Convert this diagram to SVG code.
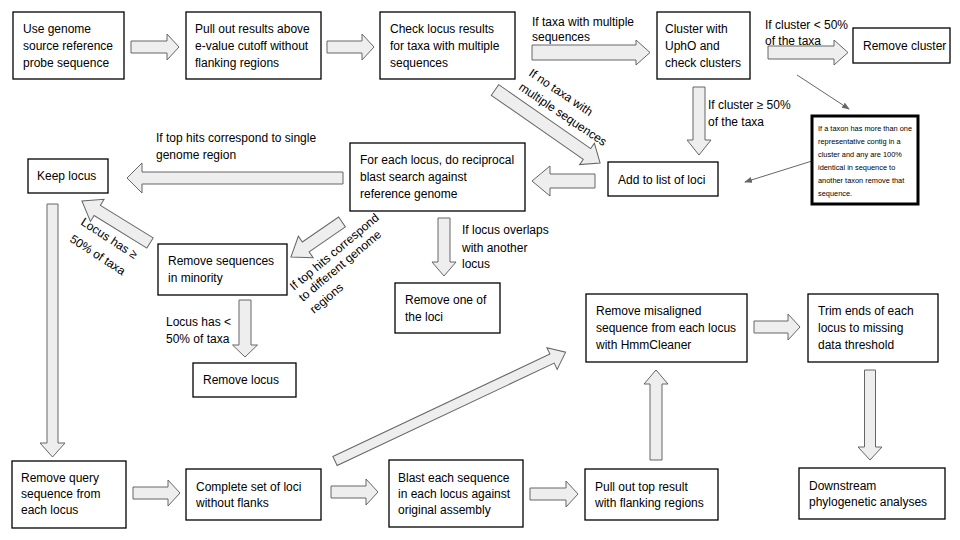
<svg xmlns="http://www.w3.org/2000/svg" width="960" height="540" viewBox="0 0 960 540">
<defs>
<style>
.box{fill:#fff;stroke:#000;stroke-width:1.3}
.note{fill:#fff;stroke:#000;stroke-width:3}
.t{font-family:"Liberation Sans",Arial,sans-serif;font-size:12px;fill:#000}
.s{font-family:"Liberation Sans",Arial,sans-serif;font-size:7.4px;fill:#000}
.arr{fill:#eeeeee;stroke:#666;stroke-width:1}
.thin{stroke:#666;stroke-width:1;fill:none;marker-end:url(#ah)}
</style>
<marker id="ah" markerWidth="8" markerHeight="6" refX="7" refY="3" orient="auto" markerUnits="userSpaceOnUse">
<path d="M0,0 L8,3 L0,6 z" fill="#666"/>
</marker>
</defs>
<rect width="960" height="540" fill="#fff"/>

<g id="connectors">
<polygon class="arr" points="131,41 167,41 167,34 179,47 167,60 167,53 131,53"/>
<polygon class="arr" points="327,41 362,41 362,34 374,47 362,60 362,53 327,53"/>
<polygon class="arr" points="532,45 636,45 636,40 650,52.5 636,65 636,60 532,60"/>
<polygon class="arr" points="768,46 834,46 834,40 848,52.5 834,65 834,59 768,59"/>
<polygon class="arr" points="693,87 705,87 705,140 711,140 699,155 687,140 693,140"/>
<polygon class="arr" points="595,174 550,174 550,166 532,181 550,196 550,188 595,188"/>
<polygon class="arr" points="343,172 142,172 142,163 127,178 142,193 142,184 343,184"/>
<polygon class="arr" points="47,204 58,204 58,443 65,443 52.5,457 40,443 47,443"/>
<polygon class="arr" points="239,300 251,300 251,345 257.5,345 245,357 232.5,345 239,345"/>
<polygon class="arr" points="438,218 450,218 450,262 456,262 444,276 432,262 438,262"/>
<polygon class="arr" points="133,487 168,487 168,480 180,493 168,506 168,499 133,499"/>
<polygon class="arr" points="331,486 366,486 366,479 378,492 366,505 366,498 331,498"/>
<polygon class="arr" points="530,488 566,488 566,481 578,494 566,507 566,500 530,500"/>
<polygon class="arr" points="650,460 662,460 662,384 668,384 656,370 644,384 650,384"/>
<polygon class="arr" points="754,321 788,321 788,314 800,327 788,340 788,333 754,333"/>
<polygon class="arr" points="864.5,370 875.5,370 875.5,447 882,447 870,460 858,447 864.5,447"/>
<polygon class="arr" transform="translate(150,243) rotate(211.7)" points="0,-6 62,-6 62,-13 80,0 62,13 62,6 0,6"/>
<polygon class="arr" transform="translate(342,222) rotate(145.5)" points="0,-6 44,-6 44,-13 62,0 44,13 44,6 0,6"/>
<polygon class="arr" transform="translate(495,90) rotate(34.8)" points="0,-6.5 112,-6.5 112,-13 128,0 112,13 112,6.5 0,6.5"/>
<polygon class="arr" transform="translate(335,461) rotate(-25.26)" points="0,-5 240,-5 240,-12 255,0 240,12 240,5 0,5"/>
<line class="thin" x1="797" y1="75" x2="849" y2="109"/>
<line class="thin" x1="812" y1="161" x2="745" y2="182"/>
</g>

<g id="labels">
<text class="t" x="532" y="26">If taxa with multiple</text>
<text class="t" x="532" y="41">sequences</text>
<text class="t" x="765" y="29">If cluster &lt; 50%</text>
<text class="t" x="765" y="45">of the taxa</text>
<text class="t" x="708" y="109">If cluster ≥ 50%</text>
<text class="t" x="708" y="126">of the taxa</text>
<text class="t" x="156" y="142">If top hits correspond to single</text>
<text class="t" x="156" y="159">genome region</text>
<text class="t" x="462" y="234">If locus overlaps</text>
<text class="t" x="462" y="252">with another</text>
<text class="t" x="462" y="268">locus</text>
<text class="t" x="166" y="326">Locus has &lt;</text>
<text class="t" x="166" y="343">50% of taxa</text>
<text class="t" transform="translate(528,75) rotate(34)">If no taxa with</text>
<text class="t" transform="translate(518,89) rotate(34)">multiple sequences</text>
<text class="t" transform="translate(80,224) rotate(33)">Locus has ≥</text>
<text class="t" transform="translate(69,241) rotate(33)">50% of taxa</text>
<text class="t" transform="translate(294,291) rotate(-40)">If top hits correspond</text>
<text class="t" transform="translate(303,302) rotate(-40)">to different genome</text>
<text class="t" transform="translate(314,314) rotate(-40)">regions</text>
</g>

<g id="n1"><rect class="box" x="13" y="12" width="111" height="67"/>
<text class="t" x="23" y="33">Use genome</text><text class="t" x="23" y="50">source reference</text><text class="t" x="23" y="67">probe sequence</text></g>
<g id="n2"><rect class="box" x="186" y="12" width="135" height="67"/>
<text class="t" x="195" y="33">Pull out results above</text><text class="t" x="195" y="50">e-value cutoff without</text><text class="t" x="195" y="67">flanking regions</text></g>
<g id="n3"><rect class="box" x="380" y="12" width="135" height="67"/>
<text class="t" x="390" y="33">Check locus results</text><text class="t" x="390" y="50">for taxa with multiple</text><text class="t" x="390" y="67">sequences</text></g>
<g id="n4"><rect class="box" x="657" y="12" width="93" height="67"/>
<text class="t" x="665" y="33">Cluster with</text><text class="t" x="665" y="50">UphO and</text><text class="t" x="665" y="67">check clusters</text></g>
<g id="n5"><rect class="box" x="853" y="28" width="97" height="35"/>
<text class="t" x="863" y="50">Remove cluster</text></g>
<g id="n6"><rect class="box" x="608" y="162" width="110" height="34"/>
<text class="t" x="618" y="184">Add to list of loci</text></g>
<g id="n7"><rect class="note" x="812" y="116" width="106" height="88"/>
<text class="s" x="818" y="131">If a taxon has more than one</text>
<text class="s" x="818" y="144">representative contig in a</text>
<text class="s" x="818" y="157">cluster and any are 100%</text>
<text class="s" x="818" y="170">identical in sequence to</text>
<text class="s" x="818" y="183">another taxon remove that</text>
<text class="s" x="818" y="196">sequence.</text></g>
<g id="n8"><rect class="box" x="350" y="143" width="175" height="68"/>
<text class="t" x="360" y="164">For each locus, do reciprocal</text><text class="t" x="360" y="181">blast search against</text><text class="t" x="360" y="198">reference genome</text></g>
<g id="n9"><rect class="box" x="28" y="159" width="80" height="34"/>
<text class="t" x="37" y="180">Keep locus</text></g>
<g id="n10"><rect class="box" x="158" y="244" width="129" height="51"/>
<text class="t" x="168" y="265">Remove sequences</text><text class="t" x="168" y="282">in minority</text></g>
<g id="n11"><rect class="box" x="193" y="363" width="103" height="34"/>
<text class="t" x="203" y="384">Remove locus</text></g>
<g id="n12"><rect class="box" x="395" y="283" width="105" height="50"/>
<text class="t" x="405" y="304">Remove one of</text><text class="t" x="405" y="321">the loci</text></g>
<g id="n13"><rect class="box" x="586" y="294" width="161" height="68"/>
<text class="t" x="596" y="315">Remove misaligned</text><text class="t" x="596" y="332">sequence from each locus</text><text class="t" x="596" y="349">with HmmCleaner</text></g>
<g id="n14"><rect class="box" x="808" y="294" width="130" height="68"/>
<text class="t" x="818" y="315">Trim ends of each</text><text class="t" x="818" y="332">locus to missing</text><text class="t" x="818" y="349">data threshold</text></g>
<g id="n15"><rect class="box" x="12" y="461" width="114" height="67"/>
<text class="t" x="21" y="482">Remove query</text><text class="t" x="21" y="498">sequence from</text><text class="t" x="21" y="514">each locus</text></g>
<g id="n16"><rect class="box" x="186" y="469" width="135" height="51"/>
<text class="t" x="196" y="491">Complete set of loci</text><text class="t" x="196" y="507">without flanks</text></g>
<g id="n17"><rect class="box" x="389" y="460" width="134" height="67"/>
<text class="t" x="398" y="482">Blast each sequence</text><text class="t" x="398" y="498">in each locus against</text><text class="t" x="398" y="514">original assembly</text></g>
<g id="n18"><rect class="box" x="585" y="469" width="133" height="51"/>
<text class="t" x="595" y="491">Pull out top result</text><text class="t" x="595" y="507">with flanking regions</text></g>
<g id="n19"><rect class="box" x="799" y="468" width="146" height="51"/>
<text class="t" x="809" y="490">Downstream</text><text class="t" x="809" y="506">phylogenetic analyses</text></g>
</svg>
